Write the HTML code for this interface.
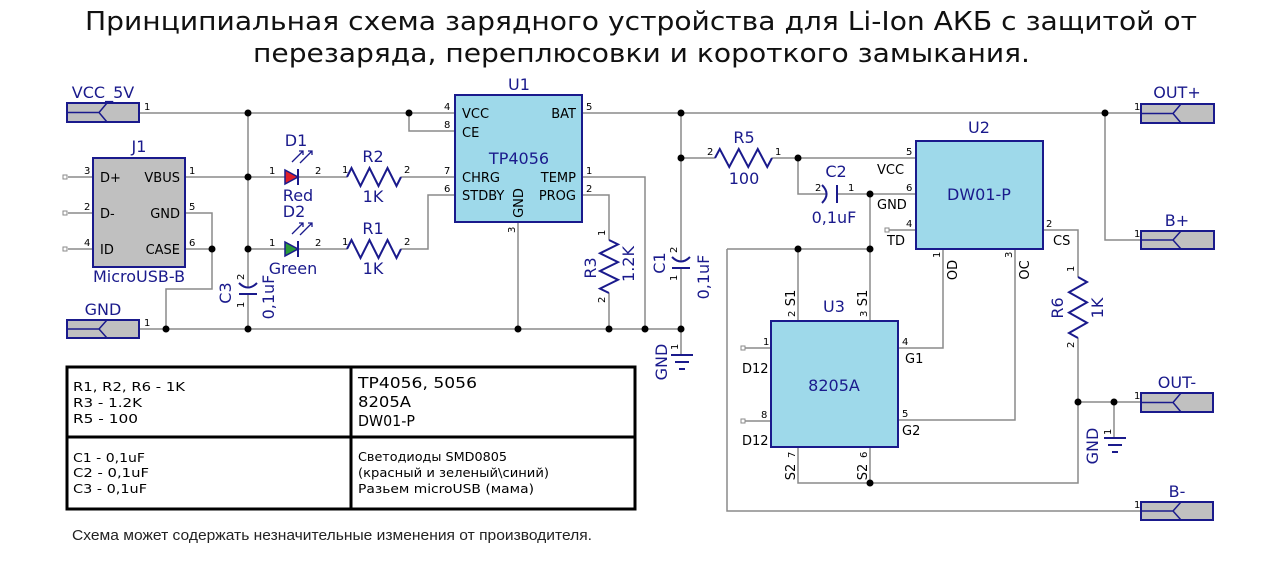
<!DOCTYPE html>
<html><head><meta charset="utf-8">
<style>
html,body{margin:0;padding:0;background:#fff;}
svg{display:block}
.w{stroke:#8a8a8a;stroke-width:1.5;fill:none}
.b{stroke:#1a1a8c;stroke-width:2;fill:none}
.lb{font-family:"DejaVu Sans","Liberation Sans",sans-serif;font-size:16px;fill:#1a1a8c}
.pl{font-family:"DejaVu Sans","Liberation Sans",sans-serif;font-size:13px;fill:#000}
.pn{font-family:"DejaVu Sans","Liberation Sans",sans-serif;font-size:10px;fill:#000}
.tb{font-family:"DejaVu Sans","Liberation Sans",sans-serif;font-size:12px;fill:#000}
.ic{fill:#9ed9ea;stroke:#1a1a8c;stroke-width:2}
.cn{fill:#c0c0c0;stroke:#1a1a8c;stroke-width:2}
.sq{fill:#fff;stroke:#8a8a8a;stroke-width:1}
</style></head><body>
<svg width="1280" height="575" viewBox="0 0 1280 575" xmlns="http://www.w3.org/2000/svg">
<rect width="1280" height="575" fill="#fff"/>

<!-- Title -->
<text x="85" y="30" font-family="DejaVu Sans, sans-serif" font-size="26" fill="#111" textLength="1112" lengthAdjust="spacingAndGlyphs">Принципиальная схема зарядного устройства для Li-Ion АКБ с защитой от</text>
<text x="253" y="62" font-family="DejaVu Sans, sans-serif" font-size="26" fill="#111" textLength="777" lengthAdjust="spacingAndGlyphs">перезаряда, переплюсовки и короткого замыкания.</text>

<!-- ================= WIRES ================= -->
<g class="w">
  <path d="M139 113 H455"/>
  <path d="M409 113 V131 H455"/>
  <path d="M248 113 V287"/>
  <path d="M248 294 V329"/>
  <path d="M139 329 H681"/>
  <path d="M68 177 H93 M68 213 H93 M68 249 H93"/>
  <path d="M185 177 H285"/>
  <path d="M185 213 H212 V289 H166 V329"/>
  <path d="M185 249 H212"/>
  <path d="M298 177 H347 M401 177 H455"/>
  <path d="M248 249 H285 M298 249 H347"/>
  <path d="M401 249 H428 V195 H455"/>
  <path d="M582 113 H1141"/>
  <path d="M582 177 H645 V329"/>
  <path d="M582 195 H609 V240 M609 293 V329"/>
  <path d="M518 222 V329"/>
  <path d="M681 113 V261 M681 268 V354"/>
  <path d="M681 158 H715 M772 158 H916"/>
  <path d="M798 158 V194 H826 M837 194 H916"/>
  <path d="M888 230 H916"/>
  <path d="M870 194 V321"/>
  <path d="M727 249 H870"/>
  <path d="M798 249 V321"/>
  <path d="M727 249 V511 H1141"/>
  <path d="M943 249 V348 H898"/>
  <path d="M1015 249 V420 H898"/>
  <path d="M1043 230 H1078 V277 M1078 338 V483 H798 V447"/>
  <path d="M870 447 V483"/>
  <path d="M744 348 H771 M744 421 H771"/>
  <path d="M1078 402 H1141"/>
  <path d="M1114 402 V437"/>
  <path d="M1105 113 V240 H1141"/>
</g>

<rect class="sq" x="63" y="175" width="4" height="4"/>
<rect class="sq" x="63" y="211" width="4" height="4"/>
<rect class="sq" x="63" y="247" width="4" height="4"/>
<rect class="sq" x="885" y="228" width="4" height="4"/>
<rect class="sq" x="741" y="346" width="4" height="4"/>
<rect class="sq" x="741" y="419" width="4" height="4"/>

<!-- ================= CONNECTORS ================= -->
<g>
  <rect class="cn" x="67" y="103" width="72" height="19"/>
  <path class="b" style="stroke-width:1.5" d="M67 112.5 H99 M107 103 L99 112.5 L107 122"/>
  <rect class="cn" x="67" y="320" width="72" height="18"/>
  <path class="b" style="stroke-width:1.5" d="M67 329 H99 M107 320 L99 329 L107 338"/>
  <rect class="cn" x="1141" y="104" width="73" height="19"/>
  <path class="b" style="stroke-width:1.5" d="M1141 113.5 H1173 M1181 104 L1173 113.5 L1181 123"/>
  <rect class="cn" x="1141" y="231" width="73" height="18"/>
  <path class="b" style="stroke-width:1.5" d="M1141 240 H1173 M1181 231 L1173 240 L1181 249"/>
  <rect class="cn" x="1141" y="393" width="72" height="19"/>
  <path class="b" style="stroke-width:1.5" d="M1141 402.5 H1173 M1181 393 L1173 402.5 L1181 412"/>
  <rect class="cn" x="1141" y="502" width="72" height="18"/>
  <path class="b" style="stroke-width:1.5" d="M1141 511 H1173 M1181 502 L1173 511 L1181 520"/>
</g>
<text class="lb" x="103" y="98" text-anchor="middle">VCC_5V</text>
<text class="lb" x="103" y="315" text-anchor="middle">GND</text>
<text class="lb" x="1177" y="98" text-anchor="middle">OUT+</text>
<text class="lb" x="1177" y="226" text-anchor="middle">B+</text>
<text class="lb" x="1177" y="388" text-anchor="middle">OUT-</text>
<text class="lb" x="1177" y="497" text-anchor="middle">B-</text>
<text class="pn" x="144" y="110">1</text>
<text class="pn" x="144" y="326">1</text>
<text class="pn" x="1134" y="110">1</text>
<text class="pn" x="1134" y="237">1</text>
<text class="pn" x="1134" y="399">1</text>
<text class="pn" x="1134" y="508">1</text>

<!-- ================= J1 ================= -->
<rect class="cn" x="93" y="158" width="92" height="109"/>
<text class="lb" x="139" y="152" text-anchor="middle">J1</text>
<text class="lb" x="139" y="282" text-anchor="middle">MicroUSB-B</text>
<text class="pl" x="100" y="182">D+</text>
<text class="pl" x="100" y="218">D-</text>
<text class="pl" x="100" y="254">ID</text>
<text class="pl" x="180" y="182" text-anchor="end">VBUS</text>
<text class="pl" x="180" y="218" text-anchor="end">GND</text>
<text class="pl" x="180" y="254" text-anchor="end">CASE</text>
<text class="pn" x="84" y="174">3</text>
<text class="pn" x="84" y="210">2</text>
<text class="pn" x="84" y="246">4</text>
<text class="pn" x="189" y="174">1</text>
<text class="pn" x="189" y="210">5</text>
<text class="pn" x="189" y="246">6</text>

<!-- ================= LEDs ================= -->
<polygon points="285,170 285,184 298,177" fill="#e0202a" stroke="#1a1a8c" stroke-width="1.5"/>
<path class="b" d="M298 169 V185"/>
<path class="b" style="stroke-width:1.3" d="M292 162 L303 151 M299 151 H303 V155 M300 163 L312 151 M308 151 H312 V155"/>
<polygon points="285,242 285,256 298,249" fill="#2a9a3a" stroke="#1a1a8c" stroke-width="1.5"/>
<path class="b" d="M298 241 V257"/>
<path class="b" style="stroke-width:1.3" d="M292 234 L303 223 M299 223 H303 V227 M300 235 L312 223 M308 223 H312 V227"/>
<text class="lb" x="296" y="146" text-anchor="middle">D1</text>
<text class="lb" x="298" y="201" text-anchor="middle">Red</text>
<text class="lb" x="294" y="217" text-anchor="middle">D2</text>
<text class="lb" x="293" y="274" text-anchor="middle">Green</text>
<text class="pn" x="269" y="174">1</text>
<text class="pn" x="315" y="174">2</text>
<text class="pn" x="269" y="246">1</text>
<text class="pn" x="315" y="246">2</text>

<!-- ================= Resistors ================= -->
<polyline class="b" points="347,177 351.5,168 360.5,186 369.5,168 378.5,186 387.5,168 396.5,186 401,177"/>
<polyline class="b" points="347,249 351.5,240 360.5,258 369.5,240 378.5,258 387.5,240 396.5,258 401,249"/>
<polyline class="b" points="715,158 719.75,149 729.25,167 738.75,149 748.25,167 757.75,149 767.25,167 772,158"/>
<polyline class="b" points="609,240 618,244.4 600,253.3 618,262.1 600,271 618,279.8 600,288.6 609,293"/>
<polyline class="b" points="1078,277 1087,282 1069,292.2 1087,302.4 1069,312.6 1087,322.8 1069,333 1078,338"/>
<text class="lb" x="373" y="162" text-anchor="middle">R2</text>
<text class="lb" x="373" y="202" text-anchor="middle">1K</text>
<text class="lb" x="373" y="234" text-anchor="middle">R1</text>
<text class="lb" x="373" y="274" text-anchor="middle">1K</text>
<text class="lb" x="744" y="143" text-anchor="middle">R5</text>
<text class="lb" x="744" y="184" text-anchor="middle">100</text>
<text class="pn" x="342" y="173">1</text>
<text class="pn" x="404" y="173">2</text>
<text class="pn" x="342" y="245">1</text>
<text class="pn" x="404" y="245">2</text>
<text class="pn" x="707" y="155">2</text>
<text class="pn" x="775" y="155">1</text>
<text class="lb" transform="rotate(-90 596 268)" x="596" y="268" text-anchor="middle">R3</text>
<text class="lb" transform="rotate(-90 634 264)" x="634" y="264" text-anchor="middle">1.2K</text>
<text class="pn" transform="rotate(-90 605 236)" x="605" y="236">1</text>
<text class="pn" transform="rotate(-90 605 303)" x="605" y="303">2</text>
<text class="lb" transform="rotate(-90 1063 308)" x="1063" y="308" text-anchor="middle">R6</text>
<text class="lb" transform="rotate(-90 1103 308)" x="1103" y="308" text-anchor="middle">1K</text>
<text class="pn" transform="rotate(-90 1074 272)" x="1074" y="272">1</text>
<text class="pn" transform="rotate(-90 1074 348)" x="1074" y="348">2</text>

<!-- ================= Capacitors ================= -->
<path class="b" d="M239 283 Q248 292 257 283"/>
<path class="b" d="M239 294 H257"/>
<text class="lb" transform="rotate(-90 231 293)" x="231" y="293" text-anchor="middle">C3</text>
<text class="lb" transform="rotate(-90 274 297)" x="274" y="297" text-anchor="middle">0,1uF</text>
<text class="pn" transform="rotate(-90 244 280)" x="244" y="280">2</text>
<text class="pn" transform="rotate(-90 244 308)" x="244" y="308">1</text>
<path class="b" d="M672 257 Q681 266 690 257"/>
<path class="b" d="M672 268 H690"/>
<text class="lb" transform="rotate(-90 665 263)" x="665" y="263" text-anchor="middle">C1</text>
<text class="lb" transform="rotate(-90 709 277)" x="709" y="277" text-anchor="middle">0,1uF</text>
<text class="pn" transform="rotate(-90 677 253)" x="677" y="253">2</text>
<text class="pn" transform="rotate(-90 677 281)" x="677" y="281">1</text>
<path class="b" d="M822 185 Q831 194 822 203"/>
<path class="b" d="M837 185 V203"/>
<text class="lb" x="836" y="177" text-anchor="middle">C2</text>
<text class="lb" x="834" y="223" text-anchor="middle">0,1uF</text>
<text class="pn" x="815" y="191">2</text>
<text class="pn" x="848" y="191">1</text>

<!-- ================= GND symbols ================= -->
<path class="b" d="M671 355 H693 M675 362 H689 M679 369 H685"/>
<text class="lb" transform="rotate(-90 667 362)" x="667" y="362" text-anchor="middle">GND</text>
<text class="pn" transform="rotate(-90 678 350)" x="678" y="350">1</text>
<path class="b" d="M1104 438 H1126 M1108 445 H1122 M1112 452 H1118"/>
<text class="lb" transform="rotate(-90 1098 446)" x="1098" y="446" text-anchor="middle">GND</text>
<text class="pn" transform="rotate(-90 1111 435)" x="1111" y="435">1</text>

<!-- ================= U1 ================= -->
<rect class="ic" x="455" y="95" width="127" height="127"/>
<text class="lb" x="519" y="90" text-anchor="middle">U1</text>
<text class="lb" x="519" y="164" text-anchor="middle">TP4056</text>
<text class="pl" x="462" y="118">VCC</text>
<text class="pl" x="462" y="137">CE</text>
<text class="pl" x="462" y="182">CHRG</text>
<text class="pl" x="462" y="200">STDBY</text>
<text class="pl" x="576" y="118" text-anchor="end">BAT</text>
<text class="pl" x="576" y="182" text-anchor="end">TEMP</text>
<text class="pl" x="576" y="200" text-anchor="end">PROG</text>
<text class="pl" transform="rotate(-90 523 203)" x="523" y="203" text-anchor="middle">GND</text>
<text class="pn" x="444" y="110">4</text>
<text class="pn" x="444" y="128">8</text>
<text class="pn" x="444" y="174">7</text>
<text class="pn" x="444" y="192">6</text>
<text class="pn" x="586" y="110">5</text>
<text class="pn" x="586" y="174">1</text>
<text class="pn" x="586" y="192">2</text>
<text class="pn" transform="rotate(-90 515 233)" x="515" y="233">3</text>

<!-- ================= U2 ================= -->
<rect class="ic" x="916" y="141" width="127" height="108"/>
<text class="lb" x="979" y="133" text-anchor="middle">U2</text>
<text class="lb" x="979" y="200" text-anchor="middle">DW01-P</text>
<text class="pl" x="877" y="174">VCC</text>
<text class="pl" x="877" y="209">GND</text>
<text class="pl" x="887" y="245">TD</text>
<text class="pl" x="1053" y="245">CS</text>
<text class="pn" x="906" y="155">5</text>
<text class="pn" x="906" y="191">6</text>
<text class="pn" x="906" y="227">4</text>
<text class="pn" x="1046" y="227">2</text>
<text class="pn" transform="rotate(-90 940 258)" x="940" y="258">1</text>
<text class="pn" transform="rotate(-90 1012 258)" x="1012" y="258">3</text>
<text class="pl" transform="rotate(-90 957 270)" x="957" y="270" text-anchor="middle">OD</text>
<text class="pl" transform="rotate(-90 1029 270)" x="1029" y="270" text-anchor="middle">OC</text>

<!-- ================= U3 ================= -->
<rect class="ic" x="771" y="321" width="127" height="126"/>
<text class="lb" x="834" y="312" text-anchor="middle">U3</text>
<text class="lb" x="834" y="391" text-anchor="middle">8205A</text>
<text class="pl" x="742" y="373">D12</text>
<text class="pl" x="742" y="445">D12</text>
<text class="pl" x="905" y="363">G1</text>
<text class="pl" x="902" y="435">G2</text>
<text class="pn" x="763" y="345">1</text>
<text class="pn" x="761" y="418">8</text>
<text class="pn" x="902" y="345">4</text>
<text class="pn" x="902" y="417">5</text>
<text class="pl" transform="rotate(-90 795 298)" x="795" y="298" text-anchor="middle">S1</text>
<text class="pn" transform="rotate(-90 795 317)" x="795" y="317">2</text>
<text class="pl" transform="rotate(-90 867 298)" x="867" y="298" text-anchor="middle">S1</text>
<text class="pn" transform="rotate(-90 867 317)" x="867" y="317">3</text>
<text class="pl" transform="rotate(-90 795 472)" x="795" y="472" text-anchor="middle">S2</text>
<text class="pn" transform="rotate(-90 795 458)" x="795" y="458">7</text>
<text class="pl" transform="rotate(-90 867 472)" x="867" y="472" text-anchor="middle">S2</text>
<text class="pn" transform="rotate(-90 867 458)" x="867" y="458">6</text>

<!-- ================= Junction dots ================= -->
<g fill="#000">
  <circle cx="248" cy="113" r="3.5"/>
  <circle cx="409" cy="113" r="3.5"/>
  <circle cx="248" cy="177" r="3.5"/>
  <circle cx="248" cy="249" r="3.5"/>
  <circle cx="248" cy="329" r="3.5"/>
  <circle cx="212" cy="249" r="3.5"/>
  <circle cx="166" cy="329" r="3.5"/>
  <circle cx="518" cy="329" r="3.5"/>
  <circle cx="609" cy="329" r="3.5"/>
  <circle cx="645" cy="329" r="3.5"/>
  <circle cx="681" cy="329" r="3.5"/>
  <circle cx="681" cy="113" r="3.5"/>
  <circle cx="681" cy="158" r="3.5"/>
  <circle cx="798" cy="158" r="3.5"/>
  <circle cx="870" cy="194" r="3.5"/>
  <circle cx="870" cy="249" r="3.5"/>
  <circle cx="798" cy="249" r="3.5"/>
  <circle cx="870" cy="483" r="3.5"/>
  <circle cx="1078" cy="402" r="3.5"/>
  <circle cx="1114" cy="402" r="3.5"/>
  <circle cx="1105" cy="113" r="3.5"/>
</g>

<!-- ================= Table ================= -->
<rect x="67" y="367" width="568" height="142" fill="none" stroke="#000" stroke-width="3"/>
<path d="M351 367 V509 M67 437 H635" stroke="#000" stroke-width="3" fill="none"/>
<text class="tb" x="73" y="391" textLength="112" lengthAdjust="spacingAndGlyphs">R1, R2, R6 - 1K</text>
<text class="tb" x="73" y="407" textLength="69" lengthAdjust="spacingAndGlyphs">R3 - 1.2K</text>
<text class="tb" x="73" y="423" textLength="65" lengthAdjust="spacingAndGlyphs">R5 - 100</text>
<text class="tb" x="73" y="462" textLength="72" lengthAdjust="spacingAndGlyphs">C1 - 0,1uF</text>
<text class="tb" x="73" y="477" textLength="76" lengthAdjust="spacingAndGlyphs">C2 - 0,1uF</text>
<text class="tb" x="73" y="493" textLength="74" lengthAdjust="spacingAndGlyphs">C3 - 0,1uF</text>
<text class="tb" style="font-size:15px" x="358" y="388" textLength="119" lengthAdjust="spacingAndGlyphs">TP4056, 5056</text>
<text class="tb" style="font-size:15px" x="358" y="407" textLength="53" lengthAdjust="spacingAndGlyphs">8205A</text>
<text class="tb" style="font-size:15px" x="358" y="426" textLength="57" lengthAdjust="spacingAndGlyphs">DW01-P</text>
<text class="tb" x="358" y="461" textLength="149" lengthAdjust="spacingAndGlyphs">Светодиоды SMD0805</text>
<text class="tb" x="358" y="477" textLength="191" lengthAdjust="spacingAndGlyphs">(красный и зеленый\синий)</text>
<text class="tb" x="358" y="493" textLength="176" lengthAdjust="spacingAndGlyphs">Разьем microUSB (мама)</text>

<!-- Note -->
<text x="72" y="540" font-family="Liberation Sans, sans-serif" font-size="15" fill="#222" textLength="520" lengthAdjust="spacingAndGlyphs">Схема может содержать незначительные изменения от производителя.</text>
</svg>
</body></html>
